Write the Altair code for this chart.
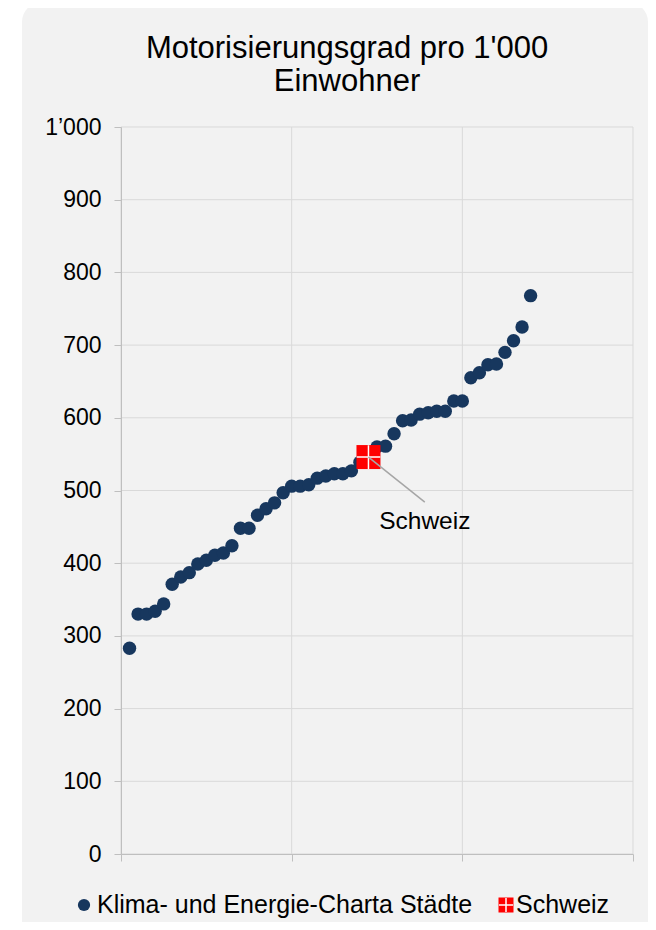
import altair as alt
import pandas as pd

# --- data ---
city_x = list(range(1, 29)) + list(range(30, 49))
city_y = [283, 330, 330, 334, 344, 371, 381, 387, 399, 404, 411, 414, 424, 448,
          448, 466, 475, 483, 497, 506, 506, 508, 517, 520, 523, 523, 527, 539,
          560, 561, 578, 596, 597, 605, 607, 609, 609, 623, 623, 655, 662, 673,
          674, 690, 706, 725, 768]
ch_x = [29]
ch_y = [546]
ch_label = ["Schweiz"]
label_pos_x = [35.6]
label_pos_y = [457]
line_end_y = [484]

y_ticks = list(range(0, 1001, 100))
x_ticks = [0, 20, 40, 60]

title_lines = ["Motorisierungsgrad pro 1'000", "Einwohner"]
legend_labels = ["Klima- und Energie-Charta Städte", "Schweiz"]

FONT = "Liberation Sans"
NAVY = "#17375e"
RED = "#ff0000"
W, H = 512, 727

cities = pd.DataFrame({"x": city_x, "y": city_y})
ch = pd.DataFrame({"x": ch_x, "y": ch_y, "lx": label_pos_x, "ly": label_pos_y,
                   "ley": line_end_y, "label": ch_label})
ygrid = pd.DataFrame({"v": y_ticks})
xgrid = pd.DataFrame({"v": x_ticks})
one = pd.DataFrame({"a": [0]})

xs = alt.Scale(domain=[0, 60], nice=False, zero=False)
ys = alt.Scale(domain=[0, 1000], nice=False)

x_axis = alt.Axis(values=x_ticks, labels=False, grid=False, ticks=True, tickSize=7,
                  domain=True, domainColor="#bfbfbf", tickColor="#bfbfbf", title=None, zindex=1)
y_axis = alt.Axis(values=y_ticks, grid=False, ticks=True, tickSize=7, domain=True,
                  domainColor="#bfbfbf", tickColor="#bfbfbf", title=None, zindex=1,
                  labelFont=FONT, labelFontSize=23, labelColor="#000000", labelPadding=13,
                  labelExpr="datum.value == 1000 ? '1’000' : datum.value + ''")

panel = alt.Chart(one).mark_rect(color="#f2f2f2", cornerRadius=20).encode(
    x=alt.value(-99), x2=alt.value(527), y=alt.value(-125), y2=alt.value(830))

hgrid = alt.Chart(ygrid).mark_rule(color="#d9d9d9", strokeWidth=1).encode(
    y=alt.Y("v:Q", scale=ys, axis=y_axis))
vgrid = alt.Chart(xgrid).mark_rule(color="#d9d9d9", strokeWidth=1).encode(
    x=alt.X("v:Q", scale=xs, axis=x_axis))

pts = alt.Chart(cities).mark_circle(color=NAVY, opacity=1, size=180).encode(
    x=alt.X("x:Q", scale=xs, axis=x_axis), y=alt.Y("y:Q", scale=ys, axis=y_axis))

sq = alt.Chart(ch).mark_point(shape="square", filled=True, color=RED, opacity=1, size=576).encode(
    x=alt.X("x:Q", scale=xs), y=alt.Y("y:Q", scale=ys))
cross = alt.Chart(ch).mark_point(shape="M-1,0L1,0M0,-1L0,1", filled=False, stroke="#ffffff",
                                 strokeWidth=1.5, opacity=1, size=560).encode(
    x=alt.X("x:Q", scale=xs), y=alt.Y("y:Q", scale=ys))
leader = alt.Chart(ch).mark_rule(color="#a6a6a6", strokeWidth=1.5).encode(
    x=alt.X("x:Q", scale=xs), y=alt.Y("y:Q", scale=ys), x2="lx:Q", y2="ley:Q")
lbl = alt.Chart(ch).mark_text(font=FONT, fontSize=24.5, color="#000000", align="center",
                              baseline="middle").encode(
    x=alt.X("lx:Q", scale=xs), y=alt.Y("ly:Q", scale=ys), text="label:N")

title = alt.Chart(pd.DataFrame({"t": ["\n".join(title_lines)]})).mark_text(
    font=FONT, fontSize=31, color="#000000", align="center", baseline="middle",
    lineBreak="\n", lineHeight=33).encode(
    x=alt.value(226), y=alt.value(-78), text="t:N")

leg_y = 778
leg_dot = alt.Chart(one).mark_circle(color=NAVY, opacity=1, size=150).encode(
    x=alt.value(-37), y=alt.value(leg_y))
leg_sq = alt.Chart(one).mark_point(shape="square", filled=True, color=RED, opacity=1, size=225).encode(
    x=alt.value(385), y=alt.value(leg_y))
leg_cross = alt.Chart(one).mark_point(shape="M-1,0L1,0M0,-1L0,1", filled=False, stroke="#ffffff",
                                      strokeWidth=1.5, opacity=1, size=200).encode(
    x=alt.value(385), y=alt.value(leg_y))
leg_t1 = alt.Chart(pd.DataFrame({"t": [legend_labels[0]]})).mark_text(
    font=FONT, fontSize=25, color="#000000", align="left", baseline="middle").encode(
    x=alt.value(-24), y=alt.value(leg_y), text="t:N")
leg_t2 = alt.Chart(pd.DataFrame({"t": [legend_labels[1]]})).mark_text(
    font=FONT, fontSize=25, color="#000000", align="left", baseline="middle").encode(
    x=alt.value(395), y=alt.value(leg_y), text="t:N")

chart = alt.layer(panel, hgrid, vgrid, pts, sq, cross, leader, lbl, title,
                  leg_dot, leg_sq, leg_cross, leg_t1, leg_t2).properties(
    width=W, height=H,
    autosize=alt.AutoSizeParams(type="none"),
    padding={"left": 113, "top": 119, "right": 15, "bottom": 68},
    background="#ffffff",
).configure_view(strokeWidth=0)

chart.save("out.html", embed_options={"renderer": "svg", "actions": False})
